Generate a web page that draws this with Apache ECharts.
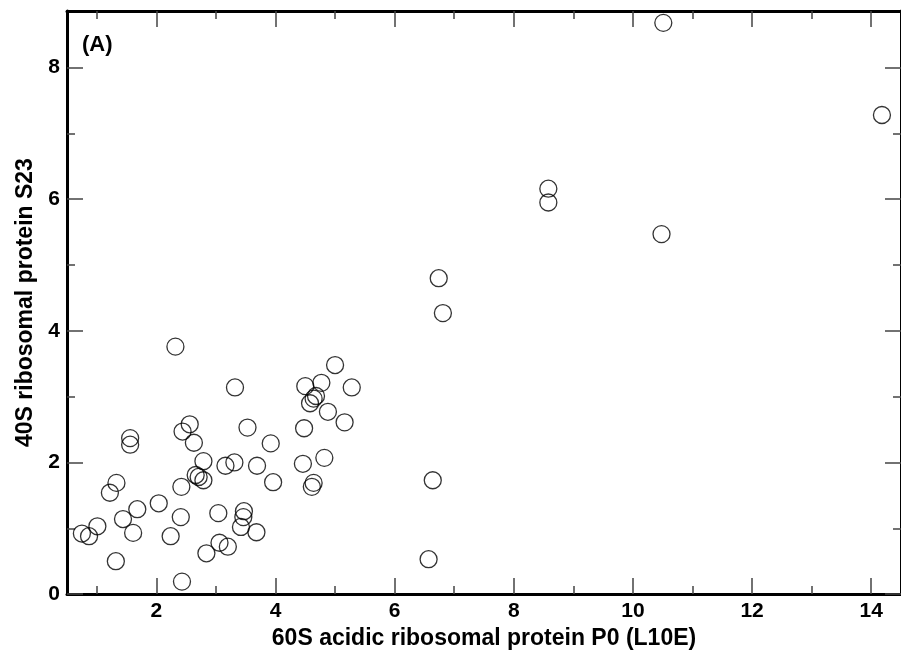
<!DOCTYPE html>
<html>
<head>
<meta charset="utf-8">
<script src="https://cdn.jsdelivr.net/npm/echarts@6/dist/echarts.min.js"></script>
<style>
  html, body { margin: 0; padding: 0; background: #fff; }
  #chart { width: 901px; height: 655px; }
</style>
</head>
<body>
<div id="chart"></div>
<script>
// Data
const xValues = [0.75, 0.87, 1.01, 1.32, 1.22, 1.33, 1.44, 1.61, 1.68, 1.56,
                 1.56, 2.04, 2.32, 2.24, 2.42, 2.41, 2.43, 2.44, 2.56, 2.63,
                 2.66, 2.71, 2.79, 2.79, 2.84, 3.04, 3.06, 3.20, 3.16, 3.31,
                 3.32, 3.42, 3.47, 3.46, 3.53, 3.68, 3.69, 3.92, 3.96, 4.46,
                 4.48, 4.50, 4.58, 4.64, 4.68, 4.77, 4.88, 5.00, 5.16, 5.28,
                 4.82, 4.61, 4.64, 6.64, 6.57, 6.81, 6.74, 8.58, 8.58, 10.51,
                 14.18, 10.48];
const yValues = [0.92, 0.88, 1.03, 0.50, 1.54, 1.69, 1.14, 0.93, 1.29, 2.37,
                 2.27, 1.38, 3.76, 0.88, 1.63, 1.17, 0.19, 2.47, 2.58, 2.30,
                 1.81, 1.78, 2.02, 1.73, 0.62, 1.23, 0.78, 0.72, 1.95, 2.00,
                 3.14, 1.02, 1.26, 1.17, 2.53, 0.94, 1.95, 2.29, 1.70, 1.98,
                 2.52, 3.16, 2.90, 2.97, 3.01, 3.21, 2.77, 3.48, 2.61, 3.14,
                 2.07, 1.63, 1.69, 1.73, 0.53, 4.27, 4.80, 6.16, 5.95, 8.68,
                 7.28, 5.47];
const xMajorTicks = [2, 4, 6, 8, 10, 12, 14];
const xMinorTicks = [1, 3, 5, 7, 9, 11, 13];
const yMajorTicks = [0, 2, 4, 6, 8];
const yMinorTicks = [1, 3, 5, 7];
const xTitle = '60S acidic ribosomal protein P0 (L10E)';
const yTitle = '40S ribosomal protein S23';
const panelLabel = '(A)';

const X_MIN = 0.5, X_MAX = 14.5, Y_MIN = 0, Y_MAX = 8.86;
const FONT = '"Liberation Sans", Arial, sans-serif';
const tickStyle = { color: '#444', width: 1.5 };

function xAxisDef(position, ticks, len, showLine, labels) {
  return {
    type: 'value', position: position, min: X_MIN, max: X_MAX,
    axisLine: { show: showLine, onZero: false, lineStyle: { color: '#000', width: 3 } },
    axisTick: { show: true, inside: true, length: len, customValues: ticks, lineStyle: tickStyle },
    axisLabel: labels ? {
      show: true, customValues: ticks, margin: 7,
      fontFamily: FONT, fontWeight: 'bold', fontSize: 21, color: '#000'
    } : { show: false },
    splitLine: { show: false }
  };
}
function yAxisDef(position, ticks, len, showLine, labels) {
  return {
    type: 'value', position: position, min: Y_MIN, max: Y_MAX,
    axisLine: { show: showLine, onZero: false, lineStyle: { color: '#000', width: 3 } },
    axisTick: { show: true, inside: true, length: len, customValues: ticks, lineStyle: tickStyle },
    axisLabel: labels ? {
      show: true, customValues: ticks, margin: 7,
      fontFamily: FONT, fontWeight: 'bold', fontSize: 21, color: '#000'
    } : { show: false },
    splitLine: { show: false }
  };
}

const xMain = xAxisDef('bottom', xMajorTicks, 16, true, true);
xMain.name = xTitle;
xMain.nameLocation = 'middle';
xMain.nameGap = 28;
xMain.nameTextStyle = { fontFamily: FONT, fontWeight: 'bold', fontSize: 23, color: '#000' };

const yMain = yAxisDef('left', yMajorTicks, 16, true, true);
yMain.name = yTitle;
yMain.nameLocation = 'middle';
yMain.nameGap = 25;
yMain.nameTextStyle = { fontFamily: FONT, fontWeight: 'bold', fontSize: 23, color: '#000' };

const chart = echarts.init(document.getElementById('chart'), null, { renderer: 'canvas' });
chart.setOption({
  animation: false,
  backgroundColor: '#fff',
  grid: { left: 67, top: 11, width: 840, height: 587.5, containLabel: false },
  xAxis: [
    xMain,
    xAxisDef('bottom', xMinorTicks, 8, false, false),
    xAxisDef('top', xMajorTicks, 16, true, false),
    xAxisDef('top', xMinorTicks, 8, false, false)
  ],
  yAxis: [
    yMain,
    yAxisDef('left', yMinorTicks, 8, false, false),
    yAxisDef('right', yMajorTicks, 16, true, false),
    yAxisDef('right', yMinorTicks, 8, false, false)
  ],
  graphic: [{
    type: 'text', left: 82, top: 34,
    style: { text: panelLabel, font: 'bold 22px ' + FONT, fill: '#000' }
  }],
  series: [{
    type: 'scatter',
    xAxisIndex: 0, yAxisIndex: 0,
    symbol: 'circle',
    symbolSize: 17,
    itemStyle: { color: 'rgba(0,0,0,0)', borderColor: '#000', borderWidth: 1.3 },
    data: xValues.map((x, i) => [x, yValues[i]])
  }]
});
</script>
</body>
</html>
